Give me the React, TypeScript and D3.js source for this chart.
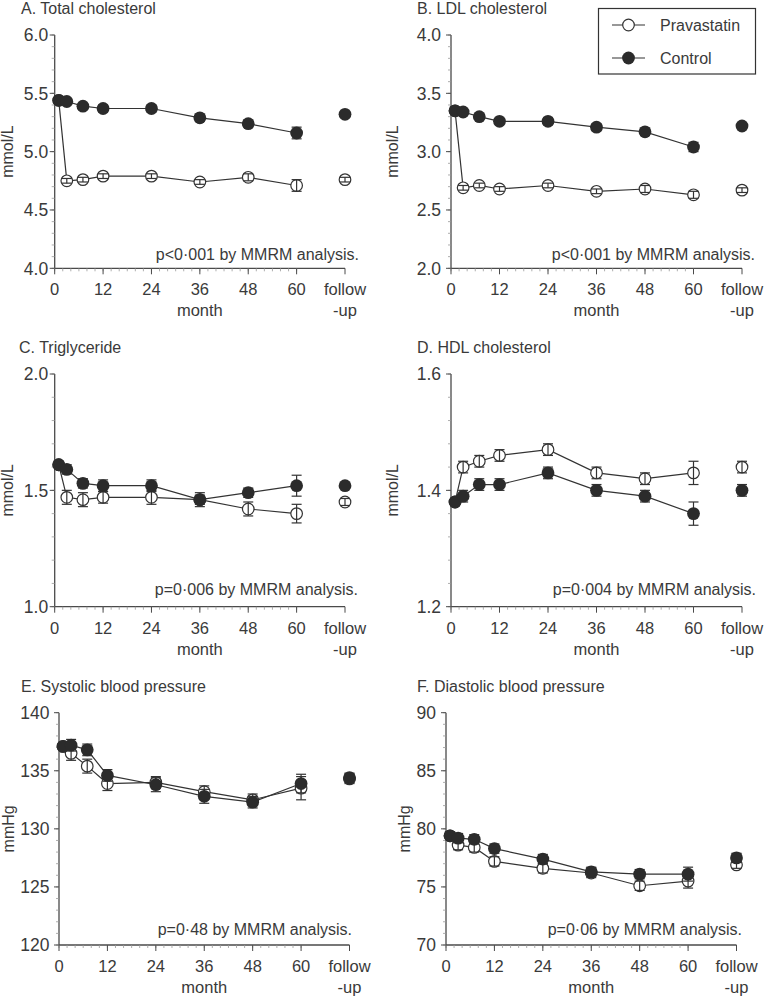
import React from "react";
import * as d3 from "d3";

// ---- data ----
const months = [1, 3, 7, 12, 24, 36, 48, 60, 72]; // 72 = follow-up
const xTickValues = [0, 12, 24, 36, 48, 60, 72];
const xTickLabels = ["0", "12", "24", "36", "48", "60", "follow"];
const seriesNames = ["Pravastatin", "Control"];

const tcPrav = [5.44, 4.75, 4.76, 4.79, 4.79, 4.74, 4.78, 4.71, 4.76];
const tcPravErr = [0.01, 0.02, 0.02, 0.02, 0.02, 0.02, 0.03, 0.05, 0.02];
const tcCtrl = [5.44, 5.43, 5.39, 5.37, 5.37, 5.29, 5.24, 5.16, 5.32];
const tcCtrlErr = [0.01, 0.02, 0.02, 0.03, 0.03, 0.03, 0.03, 0.05, 0.02];

const ldlPrav = [3.35, 2.69, 2.71, 2.68, 2.71, 2.66, 2.68, 2.63, 2.67];
const ldlPravErr = [0.01, 0.02, 0.02, 0.02, 0.02, 0.02, 0.03, 0.03, 0.02];
const ldlCtrl = [3.35, 3.34, 3.3, 3.26, 3.26, 3.21, 3.17, 3.04, 3.22];
const ldlCtrlErr = [0.01, 0.02, 0.02, 0.02, 0.03, 0.03, 0.03, 0.04, 0.02];

const tgPrav = [1.61, 1.47, 1.46, 1.47, 1.47, 1.46, 1.42, 1.4, 1.45];
const tgPravErr = [0.01, 0.03, 0.03, 0.025, 0.03, 0.02, 0.03, 0.04, 0.015];
const tgCtrl = [1.61, 1.59, 1.53, 1.52, 1.52, 1.46, 1.49, 1.52, 1.52];
const tgCtrlErr = [0.01, 0.02, 0.02, 0.025, 0.025, 0.03, 0.02, 0.045, 0.01];

const hdlPrav = [1.38, 1.44, 1.45, 1.46, 1.47, 1.43, 1.42, 1.43, 1.44];
const hdlPravErr = [0.005, 0.01, 0.01, 0.01, 0.01, 0.01, 0.01, 0.02, 0.01];
const hdlCtrl = [1.38, 1.39, 1.41, 1.41, 1.43, 1.4, 1.39, 1.36, 1.4];
const hdlCtrlErr = [0.005, 0.01, 0.01, 0.01, 0.01, 0.01, 0.01, 0.02, 0.01];

const sbpPrav = [137.1, 136.5, 135.4, 133.9, 134.0, 133.2, 132.5, 133.5, 134.3];
const sbpPravErr = [0.3, 0.6, 0.6, 0.6, 0.5, 0.5, 0.5, 1.0, 0.4];
const sbpCtrl = [137.1, 137.2, 136.8, 134.6, 133.8, 132.8, 132.3, 133.9, 134.4];
const sbpCtrlErr = [0.3, 0.5, 0.5, 0.5, 0.6, 0.6, 0.5, 0.8, 0.4];

const dbpPrav = [79.4, 78.6, 78.4, 77.2, 76.6, 76.2, 75.1, 75.5, 76.9];
const dbpPravErr = [0.3, 0.4, 0.4, 0.4, 0.4, 0.4, 0.4, 0.6, 0.3];
const dbpCtrl = [79.4, 79.2, 79.1, 78.3, 77.4, 76.3, 76.1, 76.1, 77.5];
const dbpCtrlErr = [0.3, 0.4, 0.4, 0.4, 0.4, 0.4, 0.4, 0.6, 0.4];

const titles = [
  "A. Total cholesterol",
  "B. LDL cholesterol",
  "C. Triglyceride",
  "D. HDL cholesterol",
  "E. Systolic blood pressure",
  "F. Diastolic blood pressure",
];
const units = ["mmol/L", "mmol/L", "mmol/L", "mmol/L", "mmHg", "mmHg"];
const pTexts = [
  "p<0·001 by MMRM analysis.",
  "p<0·001 by MMRM analysis.",
  "p=0·006 by MMRM analysis.",
  "p=0·004 by MMRM analysis.",
  "p=0·48 by MMRM analysis.",
  "p=0·06 by MMRM analysis.",
];
const yDomains = [[4, 6], [2, 4], [1, 2], [1.2, 1.6], [120, 140], [70, 90]];
const yMajorSteps = [0.5, 0.5, 0.5, 0.2, 5, 5];
const yMinorSteps = [0.1, 0.1, 0.1, 0.04, 1, 1];
const yFormats = [".1f", ".1f", ".1f", ".1f", "d", "d"];
const pravData = [tcPrav, ldlPrav, tgPrav, hdlPrav, sbpPrav, dbpPrav];
const pravErr = [tcPravErr, ldlPravErr, tgPravErr, hdlPravErr, sbpPravErr, dbpPravErr];
const ctrlData = [tcCtrl, ldlCtrl, tgCtrl, hdlCtrl, sbpCtrl, dbpCtrl];
const ctrlErr = [tcCtrlErr, ldlCtrlErr, tgCtrlErr, hdlCtrlErr, sbpCtrlErr, dbpCtrlErr];

// ---- layout ----
const layouts = [
  { x0: 54.7, x1: 345, yTop: 35, yBot: 268.3, titleX: 21, titleY: 14, unitX: 13, pRight: 359, pGap: 8.5, tickGap: 6.5 },
  { x0: 451, x1: 742, yTop: 35, yBot: 268.3, titleX: 417, titleY: 14, unitX: 398, pRight: 755, pGap: 8.5, tickGap: 10 },
  { x0: 54.7, x1: 345, yTop: 374, yBot: 606.7, titleX: 19, titleY: 353, unitX: 13, pRight: 358, pGap: 11.5, tickGap: 6.5 },
  { x0: 451, x1: 742, yTop: 374, yBot: 606.7, titleX: 417, titleY: 353, unitX: 398, pRight: 756, pGap: 11.5, tickGap: 10 },
  { x0: 59, x1: 349.5, yTop: 712.7, yBot: 945, titleX: 21, titleY: 691.5, unitX: 14, pRight: 352, pGap: 10, tickGap: 9.5 },
  { x0: 446, x1: 736.5, yTop: 712.7, yBot: 945, titleX: 417, titleY: 691.5, unitX: 410, pRight: 742, pGap: 10, tickGap: 10 },
];

const FONT = "'Liberation Sans', Arial, Helvetica, sans-serif";
const INK = "#3a3a3a";
const LINE = "#333";
const AXIS = "#4a4a4a";
const R_OPEN = 5.8;
const R_FILL = 6.4;
const CAP = 5;

function ErrorBars({ x, y, vals, errs, color }) {
  return (
    <g stroke={color} strokeWidth={1.2}>
      {months.map((m, i) => {
        const cx = x(m);
        const y1 = y(vals[i] - errs[i]);
        const y2 = y(vals[i] + errs[i]);
        return (
          <g key={i}>
            <line x1={cx} x2={cx} y1={y1} y2={y2} />
            <line x1={cx - CAP} x2={cx + CAP} y1={y1} y2={y1} />
            <line x1={cx - CAP} x2={cx + CAP} y1={y2} y2={y2} />
          </g>
        );
      })}
    </g>
  );
}

function Panel({ idx }) {
  const L = layouts[idx];
  const x = d3.scaleLinear().domain([0, 72]).range([L.x0, L.x1]);
  const y = d3.scaleLinear().domain(yDomains[idx]).range([L.yBot, L.yTop]);
  const [lo, hi] = yDomains[idx];
  const majorY = d3.range(lo, hi + yMajorSteps[idx] / 2, yMajorSteps[idx]);
  const minorY = d3.range(lo, hi + yMinorSteps[idx] / 2, yMinorSteps[idx]);
  const minorX = d3.range(0, 61, 2);
  const fmt = d3.format(yFormats[idx]);
  const line = d3
    .line<number>()
    .x((_, i) => x(months[i]))
    .y((d) => y(d));
  const prav = pravData[idx];
  const ctrl = ctrlData[idx];
  const plotMid = (L.yTop + L.yBot) / 2;
  return (
    <g fontFamily={FONT} fill={INK}>
      <text x={L.titleX} y={L.titleY} fontSize={16}>{titles[idx]}</text>
      <text
        transform={`translate(${L.unitX},${plotMid}) rotate(-90)`}
        textAnchor="middle"
        fontSize={16}
      >
        {units[idx]}
      </text>
      {/* y axis */}
      <line x1={L.x0} x2={L.x0} y1={L.yTop} y2={L.yBot} stroke={AXIS} strokeWidth={1.3} />
      {minorY.map((v, i) => (
        <line key={"ym" + i} x1={L.x0 - 3} x2={L.x0} y1={y(v)} y2={y(v)} stroke="#999" strokeWidth={0.8} />
      ))}
      {majorY.map((v, i) => (
        <g key={"yM" + i}>
          <line x1={L.x0 - 5} x2={L.x0} y1={y(v)} y2={y(v)} stroke={AXIS} strokeWidth={1} />
          <text x={L.x0 - L.tickGap} y={y(v)} dy="0.36em" textAnchor="end" fontSize={17.5}>
            {fmt(v)}
          </text>
        </g>
      ))}
      {/* x axis */}
      <line x1={L.x0} x2={L.x1} y1={L.yBot} y2={L.yBot} stroke={AXIS} strokeWidth={1.3} />
      {minorX.map((v, i) => (
        <line key={"xm" + i} x1={x(v)} x2={x(v)} y1={L.yBot} y2={L.yBot + 3} stroke="#999" strokeWidth={0.8} />
      ))}
      {xTickValues.map((v, i) => (
        <g key={"xM" + i}>
          <line x1={x(v)} x2={x(v)} y1={L.yBot} y2={L.yBot + 6} stroke={AXIS} strokeWidth={1} />
          <text x={x(v)} y={L.yBot + 27} textAnchor="middle" fontSize={16.5}>
            {xTickLabels[i]}
          </text>
        </g>
      ))}
      <text x={x(36)} y={L.yBot + 48} textAnchor="middle" fontSize={16.5}>month</text>
      <text x={x(72)} y={L.yBot + 48} textAnchor="middle" fontSize={16.5}>-up</text>
      <text x={L.pRight} y={L.yBot - L.pGap} textAnchor="end" fontSize={16}>{pTexts[idx]}</text>
      {/* series */}
      <path d={line(prav.slice(0, 8)) || ""} fill="none" stroke={LINE} strokeWidth={1.2} />
      <path d={line(ctrl.slice(0, 8)) || ""} fill="none" stroke={LINE} strokeWidth={1.2} />
      {months.map((m, i) => (
        <circle key={"p" + i} cx={x(m)} cy={y(prav[i])} r={R_OPEN} fill="#fff" stroke={LINE} strokeWidth={1.2} />
      ))}
      <ErrorBars x={x} y={y} vals={prav} errs={pravErr[idx]} color={LINE} />
      <ErrorBars x={x} y={y} vals={ctrl} errs={ctrlErr[idx]} color={LINE} />
      {months.map((m, i) => (
        <circle key={"c" + i} cx={x(m)} cy={y(ctrl[i])} r={R_FILL} fill="#2b2b2b" />
      ))}
    </g>
  );
}

function Legend() {
  const bx = 598.5, by = 8.5, bw = 157, bh = 65.5;
  const rows = [25, 58];
  return (
    <g fontFamily={FONT}>
      <rect x={bx} y={by} width={bw} height={bh} fill="#fff" stroke={LINE} strokeWidth={1.2} />
      {seriesNames.map((name, i) => (
        <g key={name}>
          <line x1={612} x2={645} y1={rows[i]} y2={rows[i]} stroke={LINE} strokeWidth={1.2} />
          {i === 0 ? (
            <circle cx={628.5} cy={rows[i]} r={R_OPEN} fill="#fff" stroke={LINE} strokeWidth={1.2} />
          ) : (
            <circle cx={628.5} cy={rows[i]} r={R_FILL} fill="#2b2b2b" />
          )}
          <text x={660} y={rows[i]} dy="0.36em" fontSize={16} fill={INK}>{name}</text>
        </g>
      ))}
    </g>
  );
}

export default function App() {
  return (
    <svg
      width={764}
      height={996}
      viewBox="0 0 764 996"
      style={{ position: "absolute", left: 0, top: 0, background: "#fff" }}
    >
      <rect x={0} y={0} width={764} height={996} fill="#fff" />
      {titles.map((_, i) => (
        <Panel key={i} idx={i} />
      ))}
      <Legend />
    </svg>
  );
}
